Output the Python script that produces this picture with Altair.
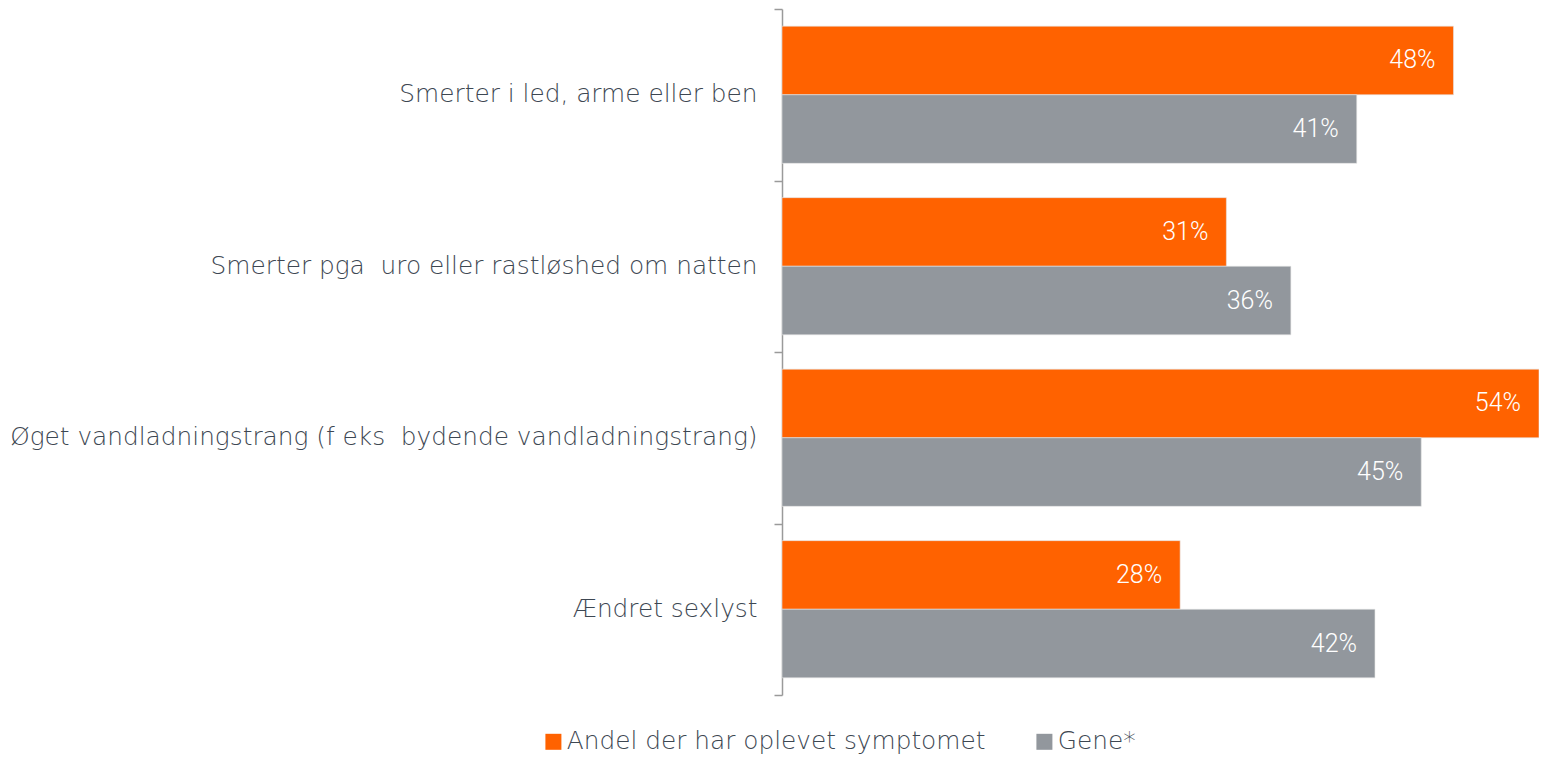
import altair as alt
import pandas as pd

categories = [
    "Smerter i led, arme eller ben",
    "Smerter pga\u00a0 uro eller rastløshed om natten",
    "Øget vandladningstrang (f eks\u00a0 bydende vandladningstrang)",
    "Ændret sexlyst",
]
series = ["Andel der har oplevet symptomet", "Gene*"]
oplevet = [47.9, 31.7, 54.0, 28.4]
gene = [41.0, 36.3, 45.6, 42.3]
oplevet_labels = ["48%", "31%", "54%", "28%"]
gene_labels = ["41%", "36%", "45%", "42%"]
colors = ["#ff6200", "#92979d"]

rows = []
for i, c in enumerate(categories):
    rows.append(dict(cat=c, series=series[0], value=oplevet[i], label=oplevet_labels[i]))
    rows.append(dict(cat=c, series=series[1], value=gene[i], label=gene_labels[i]))
df = pd.DataFrame(rows)

FONT = "DejaVu Sans"
TXT = "#3d4752"

base = alt.Chart(df).encode(
    y=alt.Y(
        "cat:N",
        sort=categories,
        scale=alt.Scale(paddingInner=0, paddingOuter=0),
        axis=alt.Axis(
            title=None,
            tickBand="extent",
            domainColor="#9a9a9a",
            tickColor="#9a9a9a",
            tickSize=8,
            domainWidth=1.5,
            tickWidth=1.5,
            labelFont=FONT,
            labelFontSize=24.8,
            labelFontWeight=300,
            labelColor=TXT,
            labelPadding=17,
            labelLimit=900,
        ),
    ),
    yOffset=alt.YOffset(
        "series:N", sort=series,
        scale=alt.Scale(paddingInner=0, paddingOuter=0.25),
    ),
)

bars = base.mark_bar(stroke="#e4e4e4", strokeWidth=0.6).encode(
    x=alt.X("value:Q", scale=alt.Scale(domain=[0, 54], nice=False), axis=None),
    color=alt.Color(
        "series:N",
        sort=series,
        scale=alt.Scale(domain=series, range=colors),
        legend=alt.Legend(
            title=None,
            orient="none",
            direction="horizontal",
            legendX=-241,
            legendY=720,
            symbolType="square",
            symbolSize=256,
            symbolStrokeWidth=0,
            labelFont=FONT,
            labelFontSize=24.8,
            labelFontWeight=300,
            labelColor=TXT,
            labelOffset=1,
            columnPadding=46,
            labelLimit=700,
        ),
    ),
)

text = base.mark_text(
    align="right", baseline="middle", dx=-18, color="white",
    font="Roboto", fontSize=25, fontWeight=300,
).encode(
    x=alt.X("value:Q"),
    text="label:N",
)

chart = (
    alt.layer(bars, text)
    .properties(
        width=757,
        height=686,
        autosize=alt.AutoSizeParams(type="none"),
        padding={"left": 774, "top": 1, "right": 0, "bottom": 61},
    )
    .configure_view(stroke=None)
)

chart.save("out.html", embed_options={"renderer": "svg", "actions": False})
